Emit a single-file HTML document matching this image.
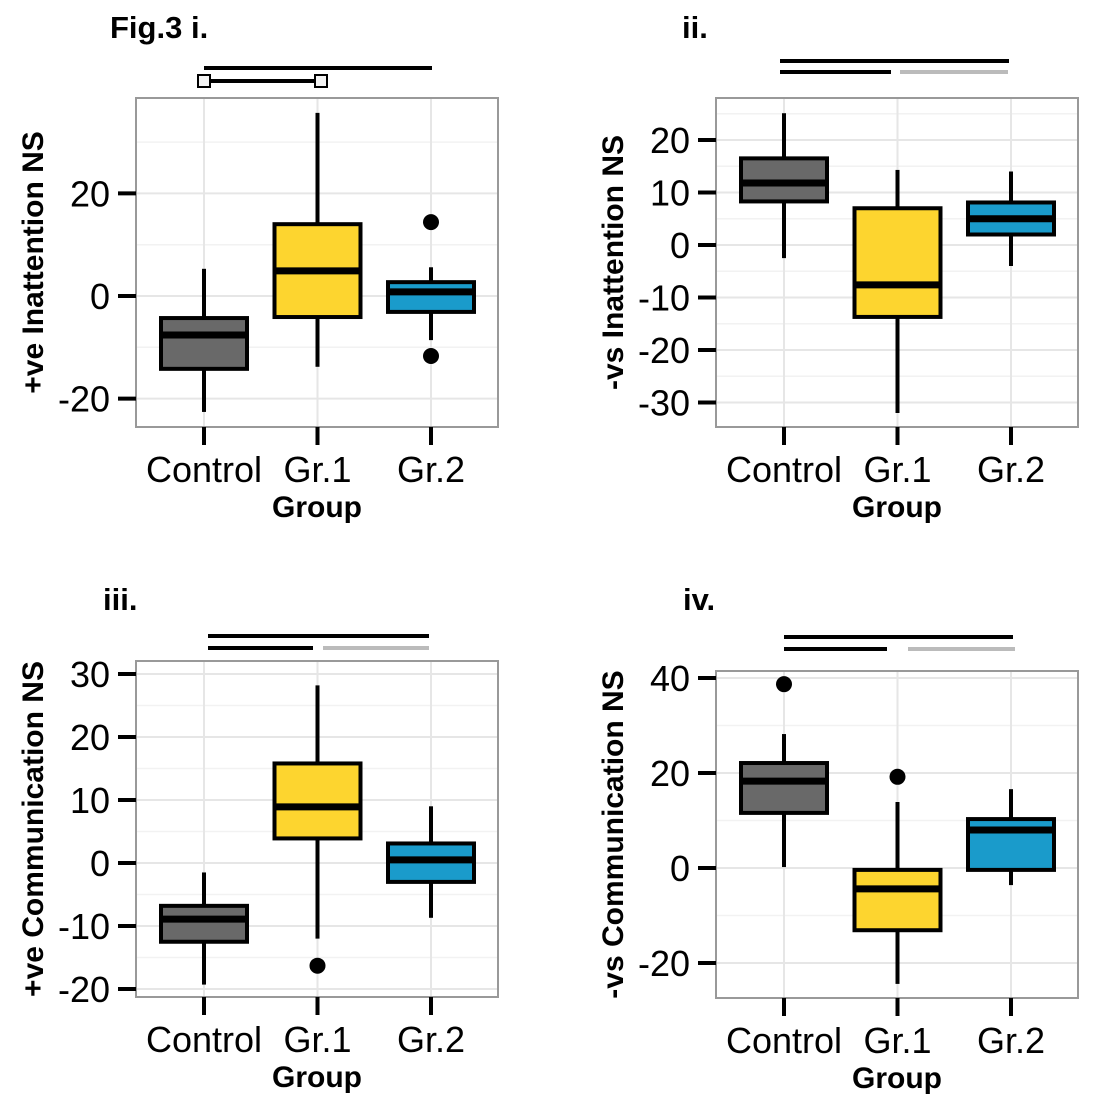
<!DOCTYPE html>
<html><head><meta charset="utf-8"><style>
html,body{margin:0;padding:0;background:#fff;}
svg{display:block;font-family:"Liberation Sans",Arial,sans-serif;}
</style></head><body>
<svg id="fig" width="1112" height="1110" viewBox="0 0 1112 1110" xmlns="http://www.w3.org/2000/svg">
<text x="110" y="38" font-size="31" font-weight="bold">Fig.3 i.</text>
<text x="682" y="38" font-size="31" font-weight="bold">ii.</text>
<text x="103" y="610" font-size="31" font-weight="bold">iii.</text>
<text x="683" y="610" font-size="31" font-weight="bold">iv.</text>
</svg>
<script>
const categories = ["Control","Gr.1","Gr.2"];
const colors = ["#696969","#fdd52f","#1a9bcb"];
// [lowWhisker, q1, median, q3, highWhisker]
const statsI   = [[-22.6,-14.2,-7.6,-4.3,5.3],[-13.8,-4.1,4.9,14,35.7],[-8.6,-3.1,0.8,2.7,5.6]];
const outliersI = [[],[],[14.4,-11.7]];
const statsII  = [[-2.5,8.3,11.8,16.5,25.1],[-32,-13.7,-7.6,7,14.3],[-4,2,5,8.1,14]];
const outliersII = [[],[],[]];
const statsIII = [[-19.3,-12.5,-8.9,-6.8,-1.5],[-12,3.9,8.9,15.8,28.2],[-8.7,-3,0.5,3.1,9]];
const outliersIII = [[],[-16.3],[]];
const statsIV  = [[0.2,11.6,18.3,22.1,28.2],[-24.4,-13.1,-4.4,-0.4,13.9],[-3.6,-0.4,8,10.3,16.6]];
const outliersIV = [[38.7],[19.2],[]];
const ticksI = [-20,0,20], ticksII = [-30,-20,-10,0,10,20], ticksIII = [-20,-10,0,10,20,30], ticksIV = [-20,0,20,40];

const NS="http://www.w3.org/2000/svg";
const svg=document.getElementById('fig');
function mk(tag,attrs,parent){const e=document.createElementNS(NS,tag);for(const k in attrs)e.setAttribute(k,attrs[k]);(parent||svg).appendChild(e);return e;}

const panels=[
 {id:"i",stats:statsI,out:outliersI,ticks:ticksI,x0:136,x1:498,y0:98,y1:427,v0:0,p0:296,ppu:5.13,title:"+ve Inattention NS",tx:32,
  bars:[{y:68,x1:204,x2:432,c:"#000"},{y:81,x1:204,x2:321,c:"#000",sq:true}]},
 {id:"ii",stats:statsII,out:outliersII,ticks:ticksII,x0:716,x1:1078,y0:98,y1:427,v0:0,p0:245,ppu:5.25,title:"-vs Inattention NS",tx:612,
  bars:[{y:61,x1:780,x2:1009,c:"#000"},{y:72,x1:780,x2:891,c:"#000"},{y:72,x1:900,x2:1008,c:"#bbb"}]},
 {id:"iii",stats:statsIII,out:outliersIII,ticks:ticksIII,x0:136,x1:498,y0:661,y1:997,v0:0,p0:863,ppu:6.3,title:"+ve Communication NS",tx:32,
  bars:[{y:636,x1:208,x2:429,c:"#000"},{y:648,x1:208,x2:313,c:"#000"},{y:648,x1:323,x2:429,c:"#bbb"}]},
 {id:"iv",stats:statsIV,out:outliersIV,ticks:ticksIV,x0:716,x1:1078,y0:671,y1:998,v0:0,p0:868,ppu:4.75,title:"-vs Communication NS",tx:612,
  bars:[{y:637,x1:784,x2:1013,c:"#000"},{y:649,x1:784,x2:887,c:"#000"},{y:649,x1:908,x2:1015,c:"#bbb"}]}
];

panels.forEach(p=>{
 const g=mk('g',{});
 
 
 const Y=v=>p.p0-(v-p.v0)*p.ppu;
 const X=i=>p.x0+68+113.5*i;
 mk('rect',{x:p.x0,y:p.y0,width:p.x1-p.x0,height:p.y1-p.y0,fill:'#fff'},g);
 const tstep=p.ticks[1]-p.ticks[0];
 for(let v=p.ticks[0]-tstep;v<=p.ticks[p.ticks.length-1]+tstep;v+=tstep/2){
  const y=Y(v); if(y<=p.y0||y>=p.y1) continue;
  const major=p.ticks.includes(v);
  mk('line',{x1:p.x0,x2:p.x1,y1:y,y2:y,stroke:major?'#e6e6e6':'#f2f2f2','stroke-width':major?2:1.5},g);
 }
 categories.forEach((c,i)=>mk('line',{x1:X(i),x2:X(i),y1:p.y0,y2:p.y1,stroke:'#e6e6e6','stroke-width':2},g));
 p.stats.forEach((s,i)=>{
  const bg=mk('g',{},g);
  
  
  const x=X(i),hw=43;
  mk('line',{x1:x,x2:x,y1:Y(s[0]),y2:Y(s[1]),stroke:'#000','stroke-width':4},bg);
  mk('line',{x1:x,x2:x,y1:Y(s[3]),y2:Y(s[4]),stroke:'#000','stroke-width':4},bg);
  mk('rect',{x:x-hw,y:Y(s[3]),width:2*hw,height:Y(s[1])-Y(s[3]),fill:colors[i],stroke:'#000','stroke-width':4},bg);
  mk('line',{x1:x-hw,x2:x+hw,y1:Y(s[2]),y2:Y(s[2]),stroke:'#000','stroke-width':7},bg);
  p.out[i].forEach(o=>{const c=mk('circle',{cx:x,cy:Y(o),r:8,fill:'#000'},bg);
   
   });
 });
 mk('rect',{x:p.x0,y:p.y0,width:p.x1-p.x0,height:p.y1-p.y0,fill:'none',stroke:'#999','stroke-width':2},g);
 p.ticks.forEach(v=>{
  const y=Y(v);
  mk('line',{x1:p.x0-18,x2:p.x0,y1:y,y2:y,stroke:'#000','stroke-width':4},g);
  const t=mk('text',{x:p.x0-26,y:y+13,'font-size':36,'text-anchor':'end',fill:'#000'},g);
  t.textContent=v;
  
  
 });
 categories.forEach((c,i)=>{
  mk('line',{x1:X(i),x2:X(i),y1:p.y1,y2:p.y1+18,stroke:'#000','stroke-width':4},g);
  const t=mk('text',{x:X(i),y:p.y1+55,'font-size':36,'text-anchor':'middle',fill:'#000'},g);
  t.textContent=c;
  
  
 });
 const xt=mk('text',{x:(p.x0+p.x1)/2,y:p.y1+90,'font-size':30,'font-weight':'bold','text-anchor':'middle'},g);
 xt.textContent='Group';
 
 
 const cy=(p.y0+p.y1)/2;
 const yt=mk('text',{x:p.tx,y:cy,'font-size':30,'font-weight':'bold','text-anchor':'middle',transform:`rotate(-90 ${p.tx} ${cy}) translate(0 11)`},g);
 yt.textContent=p.title;
 
 
 p.bars.forEach(b=>{
  const l=mk('line',{x1:b.x1,x2:b.x2,y1:b.y,y2:b.y,stroke:b.c,'stroke-width':4},g);
  
  
  if(b.sq){[b.x1,b.x2].forEach(x=>mk('rect',{x:x-6,y:b.y-6,width:12,height:12,fill:'#f4f4f4',stroke:'#000','stroke-width':2},g));}
 });
});
</script>
</body></html>
